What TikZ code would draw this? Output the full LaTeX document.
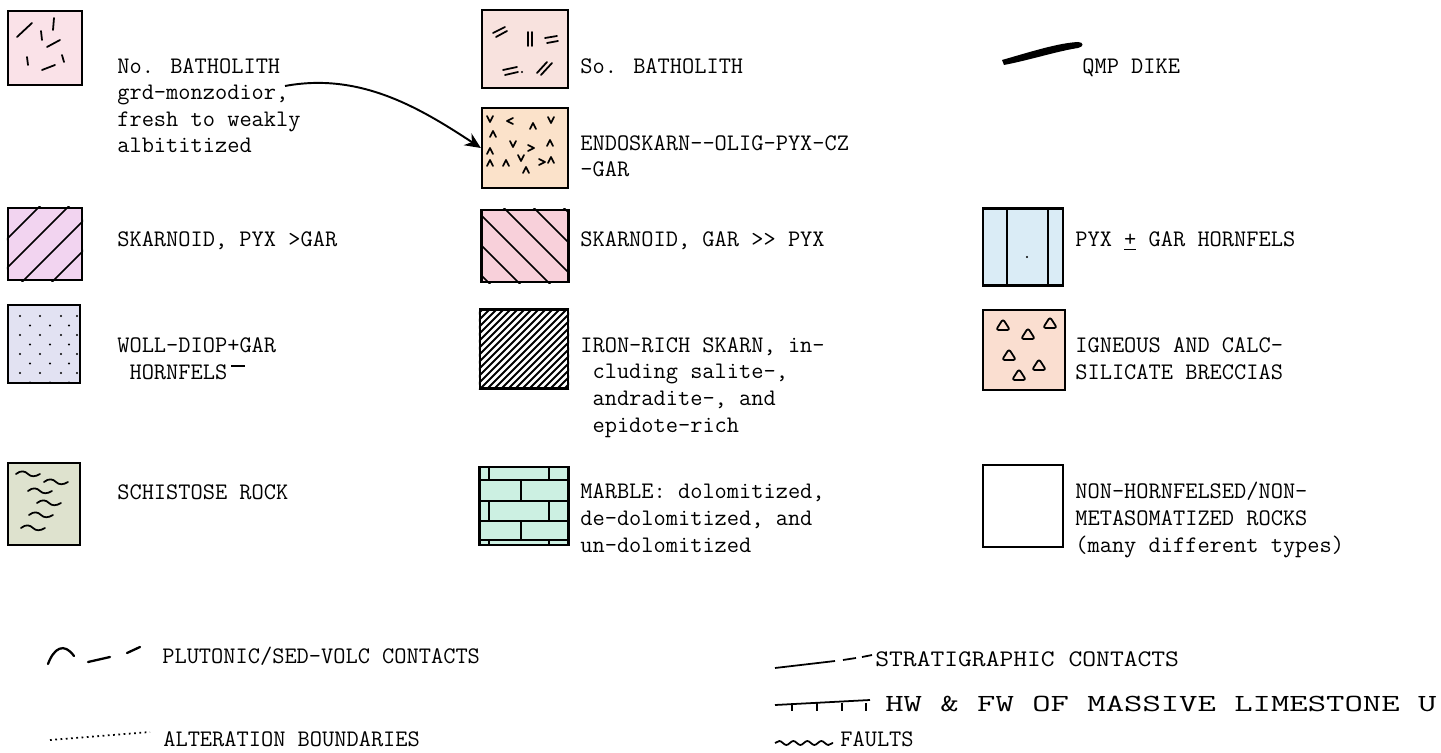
\documentclass[tikz,border=0pt]{standalone}
\usepackage{graphicx}
\usepackage{tikz}
\usetikzlibrary{arrows.meta, decorations.pathmorphing}
\definecolor{nobathpink}{RGB}{250,226,232}
\definecolor{sobathpink}{RGB}{248,226,222}
\definecolor{endopeach}{RGB}{251,226,202}
\definecolor{skpyxlilac}{RGB}{242,212,240}
\definecolor{skgarpink}{RGB}{248,208,218}
\definecolor{hornfblue}{RGB}{218,236,246}
\definecolor{wollblue}{RGB}{226,226,242}
\definecolor{brecpeach}{RGB}{250,222,208}
\definecolor{schistgreen}{RGB}{222,226,206}
\definecolor{marbleaqua}{RGB}{204,240,226}

\begin{document}
\begin{tikzpicture}[x=0.02cm, y=-0.02cm,
    legbox/.style={rectangle, draw=black, line width=1.3pt, inner sep=0pt},
    lbl/.style={anchor=base west, inner sep=0pt, align=left, font=\ttfamily\fontsize{13.5}{15.1}\selectfont},
    mk/.style={line width=1pt, line cap=round, line join=round},
    caret/.pic={\draw[mk] (-3,3) -- (0,-3) -- (3,3);},
    tri/.pic={\draw[mk, rounded corners=1.5pt] (-7,5) -- (0,-6) -- (7,5) -- cycle;},
    wav/.pic={\draw[mk] (-12,0) .. controls (-7,-4) and (-3,-3) .. (0,0) .. controls (3,3) and (7,3) .. (12,0);}
]
    \useasboundingbox (0,0) rectangle (1441,753);

    % row 1
    \node[legbox, fill=nobathpink, minimum width=1.48cm, minimum height=1.48cm] (nobath) at (45,48) {};
    \draw[mk] (17,37) -- (32,23);
    \draw[mk] (54,18) -- (53,30);
    \draw[mk] (41,31) -- (42,40);
    \draw[mk] (47,47) -- (60,40);
    \draw[mk] (27,57) -- (28,65);
    \draw[mk] (62,55) -- (64,62);
    \draw[mk] (42,70) -- (55,65);
    \node[lbl] (nobathtxt) at (117,153) {No. BATHOLITH\\grd-monzodior,\\fresh to weakly\\albititized};

    \node[legbox, fill=sobathpink, minimum width=1.72cm, minimum height=1.56cm] (sobath) at (525,49) {};
    \draw[mk] (493,33) -- (505,27) (496,37) -- (507,31);
    \draw[mk] (528,32) -- (528,46) (532,32) -- (532,46);
    \draw[mk] (545,38) -- (557,36) (547,43) -- (558,41);
    \draw[mk] (503,70) -- (517,67) (505,75) -- (518,72);
    \fill (522,72) circle[radius=0.6pt];
    \draw[mk] (537,73) -- (547,62) (541,75) -- (552,63);
    \node[lbl] (sobathtxt) at (580,74) {So. BATHOLITH};

    \fill (1002,60) .. controls (1030,52) and (1058,43) .. (1078,42)
        .. controls (1084,42) and (1084,47) .. (1078,48)
        .. controls (1058,51) and (1030,60) .. (1004,65) -- cycle;
    \node[lbl] (qmptxt) at (1082,74) {QMP DIKE};

    % endoskarn
    \node[legbox, fill=endopeach, minimum width=1.72cm, minimum height=1.6cm] (endo) at (525,148) {};
    \foreach \px/\py/\rot in {490/119/180, 510/121/90, 533/126/0, 551/120/180, 493/134/0,
        513/144/180, 490/151/0, 550/143/0, 490/163/0, 506/163/0, 521/158/180,
        526/170/0, 551/160/0, 531/148/-90, 542/162/-90}
        \pic[rotate=\rot] at (\px,\py) {caret};
    \node[lbl] (endotxt) at (580,177) {ENDOSKARN--OLIG-PYX-CZ\\-GAR};
    \draw[-{Stealth[length=9pt, width=8pt]}, line width=1.1pt]
        (285,86) .. controls (360,72) and (420,108) .. (endo.west);

    % row 2
    \node[legbox, fill=skpyxlilac, minimum width=1.48cm, minimum height=1.44cm] (skpyx) at (45,244) {};
    \begin{scope}
        \clip (skpyx.south west) rectangle (skpyx.north east);
        \foreach \c in {246,275,304,334}
            \draw[mk] (\c-300,300) -- (\c-190,190);
    \end{scope}
    \node[lbl] (skpyxtxt) at (117,247) {SKARNOID, PYX >GAR};

    \node[legbox, fill=skgarpink, minimum width=1.74cm, minimum height=1.44cm] (skgar) at (525,246) {};
    \begin{scope}
        \clip (skgar.south west) rectangle (skgar.north east);
        \foreach \c in {206,236,266,296,326,356}
            \draw[mk] (\c+190,190) -- (\c+300,300);
    \end{scope}
    \node[lbl] (skgartxt) at (580,247) {SKARNOID, GAR >> PYX};

    \node[legbox, fill=hornfblue, minimum width=1.6cm, minimum height=1.54cm] (hornf) at (1023,247) {};
    \draw[line width=1.3pt] (1007,209) -- (1007,285) (1048,209) -- (1048,285);
    \fill (1027,257) circle[radius=0.7pt];
    \node[lbl] (hornftxt) at (1075,247) {PYX \underline{+} GAR HORNFELS};

    % row 3
    \node[legbox, fill=wollblue, minimum width=1.44cm, minimum height=1.56cm] (woll) at (44,344) {};
    \foreach \r in {0,...,7} {
        \pgfmathsetmacro{\yy}{316+9.5*\r}
        \ifodd\r
            \foreach \xx in {30,50,69} \fill (\xx,\yy) circle[radius=0.7pt];
        \else
            \foreach \xx in {20,40,61,77} \fill (\xx,\yy) circle[radius=0.7pt];
        \fi
    }
    \node[lbl] (wolltxt) at (117,379) {WOLL-DIOP+GAR\\\ HORNFELS};
    \draw[line width=0.8pt] (231,366) -- (245,366);

    \node[legbox, minimum width=1.76cm, minimum height=1.58cm] (iron) at (524,349) {};
    \begin{scope}
        \clip (iron.south west) rectangle (iron.north east);
        \foreach \c in {785,792,...,960}
            \draw[line width=1.1pt] (\c-400,400) -- (\c-300,300);
    \end{scope}
    \node[lbl] (irontxt) at (580,432) {IRON-RICH SKARN, in-\\\ cluding salite-,\\\ andradite-, and\\\ epidote-rich};

    \node[legbox, fill=brecpeach, minimum width=1.64cm, minimum height=1.6cm] (brec) at (1024,350) {};
    \foreach \px/\py in {1003/325, 1050/323, 1028/334, 1009/355, 1039/365, 1019/375}
        \pic at (\px,\py) {tri};
    \node[lbl] (brectxt) at (1075,379) {IGNEOUS AND CALC-\\SILICATE BRECCIAS};

    % row 4
    \node[legbox, fill=schistgreen, minimum width=1.44cm, minimum height=1.64cm] (schist) at (44,504) {};
    \foreach \px/\py in {28/474, 56/482, 40/491, 49/503, 41/515, 33/528}
        \pic at (\px,\py) {wav};
    \node[lbl] (schisttxt) at (117,499) {SCHISTOSE ROCK};

    \node[legbox, fill=marbleaqua, minimum width=1.78cm, minimum height=1.56cm] (marble) at (524,506) {};
    \draw[line width=1.2pt] (479,480) -- (568,480) (479,501) -- (568,501) (479,521) -- (568,521) (479,540) -- (568,540);
    \draw[line width=1.2pt] (489,467) -- (489,480) (549,467) -- (549,480)
        (521,480) -- (521,501)
        (489,501) -- (489,521) (549,501) -- (549,521)
        (521,521) -- (521,540)
        (489,540) -- (489,545) (549,540) -- (549,545);
    \node[lbl] (marbletxt) at (580,552) {MARBLE: dolomitized,\\de-dolomitized, and\\un-dolomitized};

    \node[legbox, fill=white, minimum width=1.6cm, minimum height=1.64cm] (nonhf) at (1023,506) {};
    \node[lbl] (nonhftxt) at (1075,552) {NON-HORNFELSED/NON-\\METASOMATIZED ROCKS\\(many different types)};

    % line symbols
    \draw[line width=1.3pt, line cap=round] (48,664) .. controls (54,648) and (64,642) .. (74,656);
    \draw[line width=1.3pt, line cap=round] (88,662) -- (110,657) (127,653) -- (140,647);
    \node[lbl] (plutxt) at (162,663) {PLUTONIC/SED-VOLC CONTACTS};

    \draw[line width=1pt, dotted] (50,740) -- (150,732);
    \node[lbl] (alttxt) at (163,746) {ALTERATION BOUNDARIES};

    \draw[line width=1pt] (775,668) -- (835,661) (843,660) -- (856,658) (862,657) -- (872,655);
    \node[lbl] (strattxt) at (875,666) {\scalebox{1.13}[1]{STRATIGRAPHIC CONTACTS}};

    \draw[line width=1pt] (775,705) -- (870,700);
    \foreach \tx in {792,817,842,866}
        \draw[line width=1pt] (\tx,703) -- (\tx,711);
    \node[lbl, font=\ttfamily\fontsize{14}{15.1}\selectfont] (hwtxt) at (885,711) {\scalebox{1.45}[1]{HW \& FW OF MASSIVE LIMESTONE U}};

    \draw[line width=1pt, decorate, decoration={snake, amplitude=0.04cm, segment length=0.28cm}] (775,743) -- (833,743);
    \node[lbl] (flttxt) at (840,746) {FAULTS};
\end{tikzpicture}
\end{document}
